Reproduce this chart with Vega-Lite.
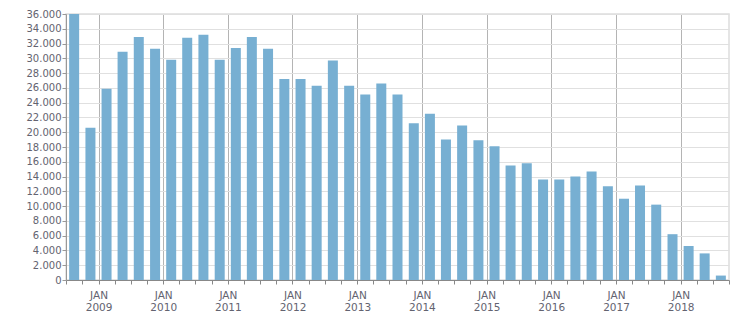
{
  "$schema": "https://vega.github.io/schema/vega-lite/v6.json",
  "width": 663,
  "height": 266,
  "autosize": "none",
  "padding": {"left": 66, "top": 14, "right": 22, "bottom": 33},
  "background": "white",
  "config": {"view": {"stroke": "#dddddd", "strokeWidth": 1.5}, "font": "DejaVu Sans"},
  "data": {
    "values": [
      {"quarter": "2008-07-01", "value": 36000},
      {"quarter": "2008-10-01", "value": 20600},
      {"quarter": "2009-01-01", "value": 25900},
      {"quarter": "2009-04-01", "value": 30900},
      {"quarter": "2009-07-01", "value": 32900},
      {"quarter": "2009-10-01", "value": 31300},
      {"quarter": "2010-01-01", "value": 29800},
      {"quarter": "2010-04-01", "value": 32800},
      {"quarter": "2010-07-01", "value": 33200},
      {"quarter": "2010-10-01", "value": 29800},
      {"quarter": "2011-01-01", "value": 31400},
      {"quarter": "2011-04-01", "value": 32900},
      {"quarter": "2011-07-01", "value": 31300},
      {"quarter": "2011-10-01", "value": 27200},
      {"quarter": "2012-01-01", "value": 27200},
      {"quarter": "2012-04-01", "value": 26300},
      {"quarter": "2012-07-01", "value": 29700},
      {"quarter": "2012-10-01", "value": 26300},
      {"quarter": "2013-01-01", "value": 25100},
      {"quarter": "2013-04-01", "value": 26600},
      {"quarter": "2013-07-01", "value": 25100},
      {"quarter": "2013-10-01", "value": 21200},
      {"quarter": "2014-01-01", "value": 22500},
      {"quarter": "2014-04-01", "value": 19000},
      {"quarter": "2014-07-01", "value": 20900},
      {"quarter": "2014-10-01", "value": 18900},
      {"quarter": "2015-01-01", "value": 18100},
      {"quarter": "2015-04-01", "value": 15500},
      {"quarter": "2015-07-01", "value": 15800},
      {"quarter": "2015-10-01", "value": 13600},
      {"quarter": "2016-01-01", "value": 13600},
      {"quarter": "2016-04-01", "value": 14000},
      {"quarter": "2016-07-01", "value": 14700},
      {"quarter": "2016-10-01", "value": 12700},
      {"quarter": "2017-01-01", "value": 11000},
      {"quarter": "2017-04-01", "value": 12800},
      {"quarter": "2017-07-01", "value": 10200},
      {"quarter": "2017-10-01", "value": 6200},
      {"quarter": "2018-01-01", "value": 4600},
      {"quarter": "2018-04-01", "value": 3600},
      {"quarter": "2018-07-01", "value": 600}
    ]
  },
  "mark": {"type": "bar", "color": "#77afd2", "width": 10},
  "encoding": {
    "x": {
      "field": "quarter",
      "type": "temporal",
      "timeUnit": "utcyearquarter",
      "bandPosition": 0.5,
      "scale": {
        "type": "utc",
        "domain": [
          {"year": 2008, "month": 7, "date": 1, "utc": true},
          {"year": 2018, "month": 10, "date": 1, "utc": true}
        ]
      },
      "axis": {
        "title": null,
        "tickCount": {"interval": "month", "step": 3},
        "labelExpr": "utcmonth(datum.value) === 0 ? ['JAN', utcFormat(datum.value, '%Y')] : ''",
        "labelOverlap": false,
        "labelFlush": false,
        "labelBound": false,
        "grid": true,
        "gridColor": "#b4b4b4",
        "gridOpacity": {"condition": {"test": "utcmonth(datum.value) === 0", "value": 1}, "value": 0},
        "domainColor": "#888888",
        "tickColor": "#888888",
        "tickSize": 4,
        "labelColor": "#636370",
        "labelFontSize": 10.5,
        "labelPadding": 6,
        "labelLineHeight": 12.5,
        "labelBaseline": "top"
      }
    },
    "y": {
      "field": "value",
      "type": "quantitative",
      "scale": {"domain": [0, 36000], "nice": false},
      "axis": {
        "title": null,
        "values": [0, 2000, 4000, 6000, 8000, 10000, 12000, 14000, 16000, 18000, 20000, 22000, 24000, 26000, 28000, 30000, 32000, 34000, 36000],
        "labelExpr": "replace(format(datum.value, ','), ',', '.')",
        "gridColor": "#e0e0e0",
        "domainColor": "#999999",
        "tickColor": "#999999",
        "tickSize": 4,
        "labelPadding": 1,
        "labelColor": "#636370",
        "labelFontSize": 10
      }
    }
  }
}
